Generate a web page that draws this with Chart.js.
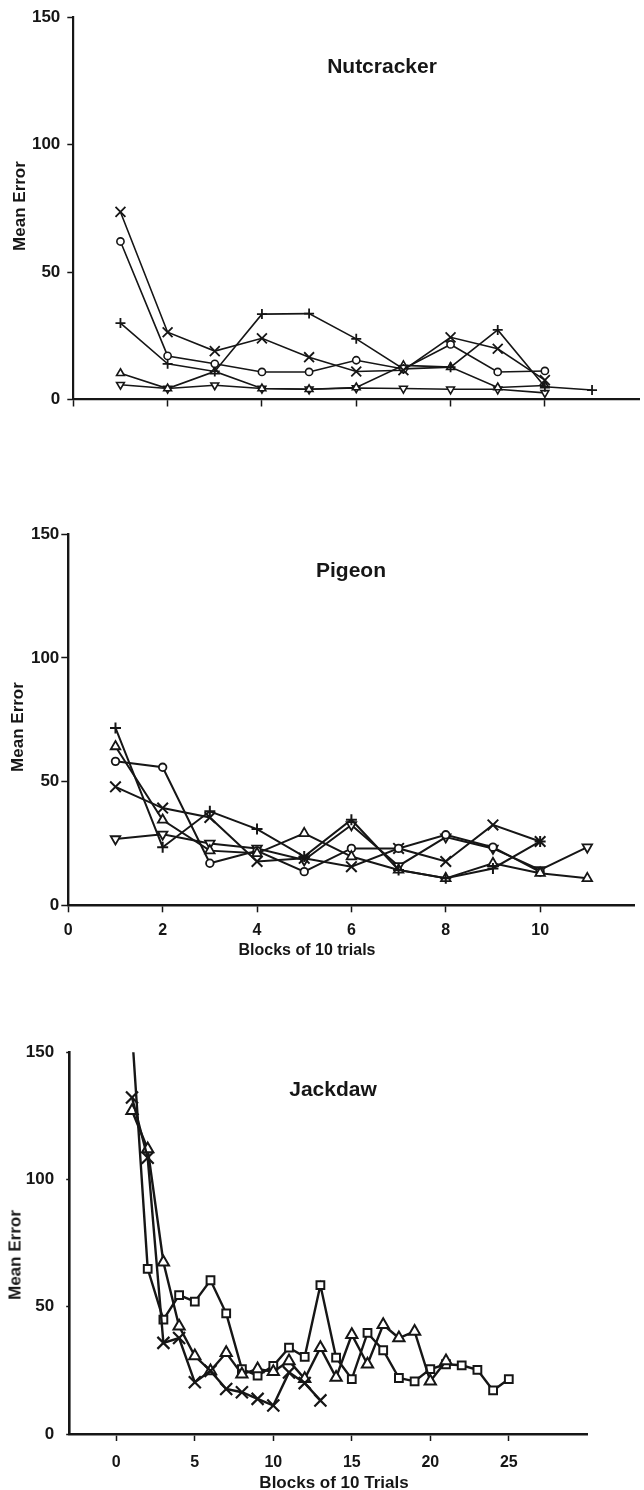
<!DOCTYPE html>
<html>
<head>
<meta charset="utf-8">
<script src="https://cdn.jsdelivr.net/npm/chart.js@4.4.1/dist/chart.umd.min.js"></script>
<style>
html, body { margin: 0; padding: 0; background: #fff; overflow: hidden; }
body { width: 644px; height: 1490px; position: relative; font-family: "Liberation Sans", Arial, sans-serif; font-weight: bold; color: #161616; }
canvas { position: absolute; left: 0; }
.lbl { position: absolute; white-space: nowrap; transform: translate(-50%, -50%); line-height: 1; }
.ylbl { transform: translate(-50%, -50%) rotate(-90deg); }
</style>
</head>
<body>
<canvas id="nutcracker" width="648" height="440" style="top:0px"></canvas>
<canvas id="pigeon" width="644" height="470" style="top:500px"></canvas>
<canvas id="jackdaw" width="644" height="460" style="top:1030px"></canvas>

<div class="lbl" style="left:382px;top:65px;font-size:21px">Nutcracker</div>
<div class="lbl" style="left:351px;top:569px;font-size:21px">Pigeon</div>
<div class="lbl" style="left:333px;top:1088px;font-size:21px">Jackdaw</div>
<div class="lbl ylbl" style="left:19px;top:206px;font-size:17px">Mean Error</div>
<div class="lbl ylbl" style="left:17px;top:727px;font-size:17px">Mean Error</div>
<div class="lbl ylbl" style="left:15px;top:1255px;font-size:17px">Mean Error</div>
<div class="lbl" style="left:307px;top:950px;font-size:16px">Blocks of 10 trials</div>
<div class="lbl" style="left:334px;top:1482px;font-size:17px">Blocks of 10 Trials</div>

<script>
// values, one entry per block of 10 trials (block 1, 2, ...)
var yTicks = [0, 50, 100, 150]

var nutXTicks = [0, 2, 4, 6, 8, 10]
var nutCross = [73.6, 26.4, 19, 24, 16.6, 11, 11.5, 24.4, 19.9, 7.6]
var nutCircle = [62, 17.1, 14, 10.8, 10.8, 15.4, 12, 21.6, 10.8, 11.2]
var nutPlus = [30, 14, 11, 33.5, 33.7, 23.8, 12, 12.7, 27.3, 5, 3.7]
var nutTriangle = [10.3, 4.3, 11, 4.3, 4, 4.7, 13.4, 12.7, 4.7, 5.5]
var nutTriangleDown = [5.8, 4.3, 5.6, 4.3, 4, 4.5, 4.3, 4, 4, 2.6]

var pigXTicks = [0, 2, 4, 6, 8, 10]
var pigPlus = [71.7, 23.5, 38, 30.8, 19.7, 34.6, 14.3, 10.9, 14.9, 25.8]
var pigTriangle = [64.2, 34.5, 22.1, 21, 29.1, 19.7, 14.3, 10.9, 17, 13, 10.9]
var pigCircle = [58.2, 55.8, 17, 22, 13.6, 23, 23, 28.5, 23.5, 13.5]
var pigCross = [47.9, 39.3, 35.5, 17.7, 19, 15.6, 23, 17.7, 32.5, 25.8]
var pigTriangleDown = [26.8, 28.7, 25, 23, 18.3, 32.5, 15.9, 27.6, 23, 14.3, 23.5]

var jackXTicks = [0, 5, 10, 15, 20, 25]
var jackCross = [132.2, 108.5, 35.8, 37.7, 20.3, 24.8, 17.7, 16.4, 13.8, 11.2, 24.2, 20, 13.2]
var jackTriangle = [127, 112, 67.5, 42.3, 30.6, 24.8, 31.9, 23.5, 25.5, 24.5, 28.7, 21.7, 33.9, 22.2, 39, 27.4, 42.9, 37.7, 40.3, 20.7, 28.7]
var jackSquare = [158, 64.9, 44.9, 54.6, 52, 60.4, 47.4, 25.5, 22.9, 26.8, 33.9, 30.3, 58.5, 30, 21.6, 39.7, 32.9, 22, 20.7, 25.5, 27.4, 27, 25.2, 17.1, 21.6]

var ink = "#161616"

function toPoints(values) {
  return values.map(function (v, i) {
    return { x: i + 1, y: v }
  })
}

function series(values, style, radius, lineWidth, markWidth, rotation) {
  return {
    data: toPoints(values),
    borderColor: ink,
    borderWidth: lineWidth,
    pointStyle: style,
    pointRotation: rotation || 0,
    pointRadius: radius,
    pointBorderColor: ink,
    pointBorderWidth: markWidth,
    pointBackgroundColor: "#ffffff",
    showLine: true,
    tension: 0
  }
}

function buildPanel(panel) {
  var ctx = document.getElementById(panel.id)

  new Chart(ctx, {
    type: "scatter",
    data: { datasets: panel.datasets },
    options: {
      responsive: false,
      animation: false,
      events: [],
      layout: {
        padding: { top: panel.top, right: panel.right, left: 0, bottom: 0 }
      },
      plugins: {
        legend: { display: false },
        tooltip: { enabled: false }
      },
      scales: {
        x: {
          type: "linear",
          min: panel.xMin,
          max: panel.xMax,
          afterBuildTicks: function (scale) {
            scale.ticks = panel.xTicks.map(function (v) { return { value: v } })
          },
          afterFit: function (scale) { scale.height = panel.xHeight },
          ticks: {
            display: panel.xLabels,
            color: ink,
            padding: panel.xPad,
            maxRotation: 0,
            autoSkip: false,
            font: { family: "'Liberation Sans', Arial", weight: "bold", size: 16 }
          },
          grid: {
            drawOnChartArea: false,
            tickLength: 7,
            tickWidth: 1.5,
            tickColor: ink
          },
          border: { color: ink, width: panel.axisWidth }
        },
        y: {
          type: "linear",
          min: 0,
          max: 150,
          afterBuildTicks: function (scale) {
            scale.ticks = yTicks.map(function (v) { return { value: v } })
          },
          afterFit: function (scale) { scale.width = panel.yWidth },
          ticks: {
            color: ink,
            padding: panel.yPad,
            font: { family: "'Liberation Sans', Arial", weight: "bold", size: 17 }
          },
          grid: {
            drawOnChartArea: false,
            tickLength: panel.yTick,
            tickWidth: 1.5,
            tickColor: ink
          },
          border: { color: ink, width: panel.axisWidth }
        }
      }
    }
  })
}

buildPanel({
  id: "nutcracker",
  top: 13.5, right: 1, xHeight: 40.5, yWidth: 73.3,
  xMin: 0, xMax: 12, xTicks: nutXTicks, xLabels: false, xPad: 9,
  yPad: 7, yTick: 6, axisWidth: 2.2,
  datasets: [
    series(nutCross, "crossRot", 7, 1.6, 1.8),
    series(nutCircle, "circle", 3.6, 1.6, 1.6),
    series(nutPlus, "cross", 5, 1.6, 1.8),
    series(nutTriangle, "triangle", 4.5, 1.6, 1.6),
    series(nutTriangleDown, "triangle", 4.5, 1.6, 1.6, 180)
  ]
})

buildPanel({
  id: "pigeon",
  top: 34.3, right: 1.3, xHeight: 64.7, yWidth: 68.3,
  xMin: 0, xMax: 12, xTicks: pigXTicks, xLabels: true, xPad: 9,
  yPad: 2, yTick: 7, axisWidth: 2.4,
  datasets: [
    series(pigPlus, "cross", 5.5, 2, 2),
    series(pigTriangle, "triangle", 5.5, 2, 1.8),
    series(pigCircle, "circle", 3.8, 2, 1.8),
    series(pigCross, "crossRot", 7.5, 2, 2),
    series(pigTriangleDown, "triangle", 5.5, 2, 1.8, 180)
  ]
})

buildPanel({
  id: "jackdaw",
  top: 18.3, right: 56.7, xHeight: 56, yWidth: 69.2,
  xMin: -3, xMax: 30, xTicks: jackXTicks, xLabels: true, xPad: 12,
  yPad: 12, yTick: 3, axisWidth: 2.6,
  datasets: [
    series(jackCross, "crossRot", 8.5, 2.4, 2.2),
    series(jackTriangle, "triangle", 6.5, 2.4, 2),
    series(jackSquare, "rect", 5.5, 2.4, 2)
  ]
})
</script>
</body>
</html>
